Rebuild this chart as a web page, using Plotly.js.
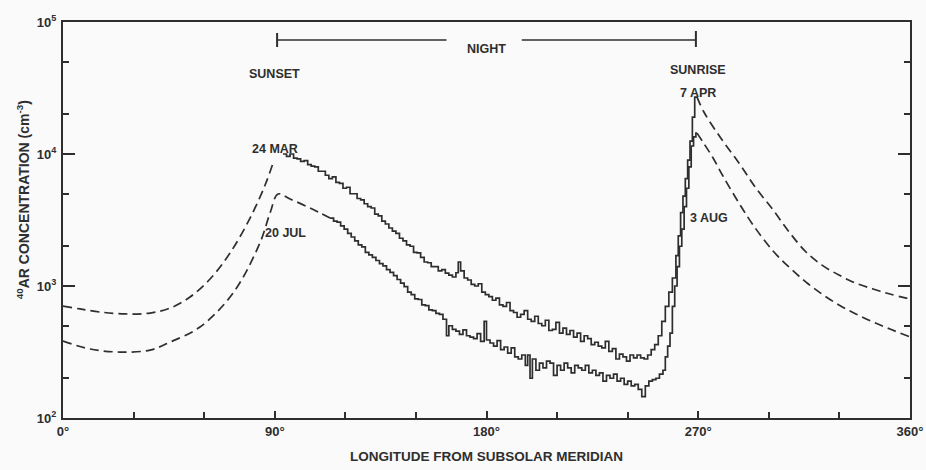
<!DOCTYPE html>
<html>
<head>
<meta charset="utf-8">
<script src="https://cdn.plot.ly/plotly-3.0.1.min.js"></script>
<style>html,body{margin:0;padding:0;background:#fafafa;}</style>
</head>
<body>
<div id="chart" style="width:926px;height:470px;"></div>
<script>
// Upper curve (24 MAR / 7 APR), model dashed segments and measured solid segment
const upperLeftLon = [0, 7.2, 15.7, 26.4, 37, 45.5, 54, 62.5, 71, 79.5, 85.9, 89.3];
const upperLeftConc = [705, 670, 635, 614, 624, 680, 826, 1130, 1780, 3270, 5820, 8550];

const upperDataLon = [93.5,95,96.5,98,99.5,101,102.5,104,105.5,107,108.5,110,111.5,113,114.5,116,117.5,119,120.5,122,123.5,125,126.5,128,129.5,131,132.5,134,135.5,137,138.5,140,141.5,143,144.5,146,147.5,149,150.5,152,153.5,155,156.5,158,159.5,161,162.5,164,165.5,167,168,169,170.5,172,173.5,175,176.5,178,179.5,181,182.5,184,185.5,187,188.5,190,191.5,193,194.5,196,197.5,199,200.5,202,203.5,205,206.5,208,209.5,211,212.5,214,215.5,217,218.5,220,221.5,223,224.5,226,227.5,229,230.5,232,233.5,235,236.5,238,239.5,241,242.5,244,245.5,247,248.5,250,251.5,253,254.5,256,257.5,259,260.5,261.5,262.5,263.5,264.5,265.5,266.5,267.5,268.5,269.5];
const upperDataConc = [10000,9600,10000,9300,9200,8800,8900,8300,8100,8000,7400,7400,6900,6500,6700,6100,6000,5500,5600,5000,5000,4600,4500,4200,4000,3900,3500,3400,3100,2950,2750,2600,2500,2300,2200,2050,2000,1800,1780,1650,1520,1500,1400,1400,1300,1330,1250,1210,1170,1260,1520,1300,1150,1110,1030,1000,1040,900,860,830,780,810,720,700,750,650,630,580,610,650,560,540,590,520,500,550,460,470,530,440,480,430,460,410,440,380,420,400,360,375,350,340,380,320,335,280,305,290,270,300,285,300,285,280,300,330,360,420,540,700,900,1150,1700,2400,3600,4800,6500,9000,12500,19000,27000,27000];

const upperRightLon = [269.5, 272.4, 279.2, 287.3, 294.5, 301.8, 308.6, 315.8, 322.6, 329.8, 337, 344.3, 351.5, 360];
const upperRightConc = [27000, 20800, 13500, 8550, 5520, 3770, 2570, 1810, 1440, 1210, 1050, 949, 869, 797];

// Lower curve (20 JUL / 3 AUG)
const lowerLeftLon = [0, 11.5, 24.2, 37, 45.5, 58.2, 72.3, 83.7, 88, 91.4, 96.5, 105, 113.5];
const lowerLeftConc = [383, 333, 316, 327, 376, 489, 885, 2120, 3570, 4980, 4560, 3900, 3270];

const lowerDataLon = [113.5,115,116.5,118,119.5,121,122.5,124,125.5,127,128.5,130,131.5,133,134.5,136,137.5,139,140.5,142,143.5,145,146.5,148,149.5,151,152.5,154,155.5,157,158.5,160,161.5,163,164,165.5,167,168.5,170,171.5,173,174.5,176,177.5,179,180,181.5,183,184.5,186,187.5,189,190.5,192,193.5,195,196.5,197.5,198.5,199.5,201,202.5,204,205.5,207,208.5,210,211.5,213,214.5,216,217.5,219,220.5,222,223.5,225,226.5,228,229.5,231,232.5,234,235.5,237,238.5,240,241.5,243,244.5,246,247.5,249,250.5,252,253.5,255,256,257,258,259,260,261,262,263,264,265,266,267,268,269,269.5];
const lowerDataConc = [3270,3100,3050,2850,2700,2500,2350,2200,2050,1980,1800,1720,1650,1560,1480,1420,1330,1270,1200,1120,1050,990,900,860,800,790,720,710,660,650,620,610,560,420,500,470,455,430,465,420,410,400,435,380,540,390,370,350,385,330,345,310,340,290,280,300,250,300,200,280,230,260,240,270,260,210,250,230,260,240,220,250,240,230,250,220,230,210,220,190,210,200,215,190,200,180,190,175,180,165,145,175,190,195,200,215,230,290,350,440,700,1000,1400,2000,2700,4000,5500,8000,11500,13500,14400,14400];

const lowerRightLon = [269.5, 272, 276.3, 280.5, 287.3, 293.3, 301.8, 309, 315.8, 322.6, 329.8, 337, 344.3, 351.5, 360];
const lowerRightConc = [14400, 12300, 9330, 6810, 4250, 2900, 1840, 1370, 1070, 869, 718, 614, 533, 472, 411];

const xTickVals = [0, 90, 180, 270, 360];
const xTickText = ['<b>0°</b>', '<b>90°</b>', '<b>180°</b>', '<b>270°</b>', '<b>360°</b>'];
const yTickVals = [100, 1000, 10000, 100000];
const yTickText = ['<b>10<sup>2</sup></b>', '<b>10<sup>3</sup></b>', '<b>10<sup>4</sup></b>', '<b>10<sup>5</sup></b>'];
const yMinorVals = [200, 500, 2000, 5000, 20000, 50000];

const ink = '#2e2e2e';
const FONT = 'Liberation Sans, Arial, sans-serif';
const dashStyle = '9px,5px';

function tr(x, y, dashed, shape) {
  return {
    x: x, y: y, type: 'scatter', mode: 'lines', hoverinfo: 'skip',
    line: {color: ink, width: 1.7, dash: dashed ? dashStyle : 'solid', shape: shape || 'linear', smoothing: 1}
  };
}

const data = [
  tr(upperLeftLon, upperLeftConc, true, 'spline'),
  tr(upperDataLon, upperDataConc, false, 'hv'),
  tr(upperRightLon, upperRightConc, true, 'spline'),
  tr(lowerLeftLon, lowerLeftConc, true, 'spline'),
  tr(lowerDataLon, lowerDataConc, false, 'hv'),
  tr(lowerRightLon, lowerRightConc, true, 'spline')
];

const F = (s) => ({family: FONT, size: s, color: ink, weight: 700});

const lab = (text, x, yPx) => ({
  text: '<b>' + text + '</b>', x: x, y: (418 - yPx) / 396, xref: 'x', yref: 'paper',
  showarrow: false, font: F(12.5)
});

const layout = {
  width: 926, height: 470,
  margin: {l: 63, r: 16, t: 22, b: 52},
  paper_bgcolor: '#fafafa', plot_bgcolor: '#fafafa',
  showlegend: false,
  font: F(12),
  xaxis: {
    range: [0, 360], tickmode: 'array', tickvals: xTickVals, ticktext: xTickText,
    ticks: 'inside', ticklen: 7, tickwidth: 2, tickcolor: ink,
    minor: {tickmode: 'linear', tick0: 0, dtick: 30, ticks: 'inside', ticklen: 6, tickwidth: 2, tickcolor: ink},
    showline: true, linecolor: ink, linewidth: 2, mirror: true,
    showgrid: false, zeroline: false,
    tickfont: F(13),
    title: {text: '<b>LONGITUDE FROM SUBSOLAR MERIDIAN</b>', standoff: 14, font: F(13.5)}
  },
  yaxis: {
    type: 'log', range: [2, 5], tickmode: 'array', tickvals: yTickVals, ticktext: yTickText,
    ticks: 'inside', ticklen: 12, tickwidth: 2, tickcolor: ink,
    minor: {tickmode: 'array', tickvals: yMinorVals, ticks: 'inside', ticklen: 6, tickwidth: 2, tickcolor: ink},
    showline: true, linecolor: ink, linewidth: 2, mirror: 'ticks',
    showgrid: false, zeroline: false, ticklabelstandoff: 2,
    tickfont: F(13)
  },
  annotations: [
    lab('NIGHT', 180, 40),
    lab('SUNSET', 90, 65),
    lab('SUNRISE', 270, 61),
    lab('7 APR', 270, 84),
    lab('24 MAR', 90, 140),
    lab('20 JUL', 94.5, 233),
    lab('3 AUG', 274.5, 218),
    {text: '<b><sup>40</sup>AR CONCENTRATION (cm<sup>-3</sup>)</b>', textangle: -90,
     x: -0.047, y: (418 - 200) / 396, xref: 'paper', yref: 'paper', xanchor: 'center', yanchor: 'middle',
     showarrow: false, font: F(14)}
  ],
  shapes: [
    {type: 'line', xref: 'x', yref: 'paper', x0: 91, x1: 163, y0: (418 - 40) / 396, y1: (418 - 40) / 396, line: {color: ink, width: 1.3}},
    {type: 'line', xref: 'x', yref: 'paper', x0: 195, x1: 269, y0: (418 - 40) / 396, y1: (418 - 40) / 396, line: {color: ink, width: 1.3}},
    {type: 'line', xref: 'x', yref: 'paper', x0: 91, x1: 91, y0: (418 - 33) / 396, y1: (418 - 47) / 396, line: {color: ink, width: 2}},
    {type: 'line', xref: 'x', yref: 'paper', x0: 269, x1: 269, y0: (418 - 31) / 396, y1: (418 - 47) / 396, line: {color: ink, width: 2}}
  ]
};

Plotly.newPlot('chart', data, layout, {staticPlot: true, displayModeBar: false});
</script>
</body>
</html>
